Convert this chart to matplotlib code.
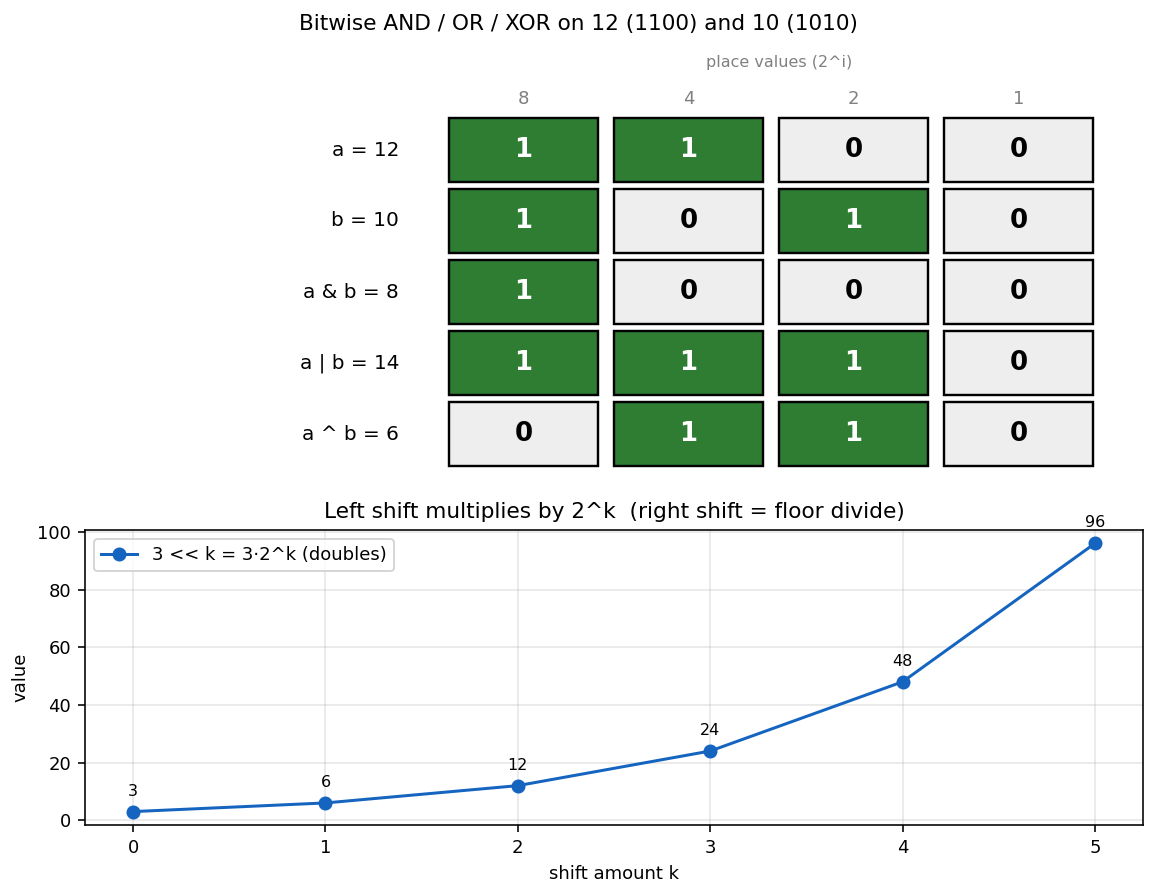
import numpy as np
import matplotlib.pyplot as plt
from matplotlib.patches import Rectangle

plt.rcParams['font.size'] = 9

# top panel data
row_labels = ['a = 12', 'b = 10', 'a & b = 8', 'a | b = 14', 'a ^ b = 6']
bits = [[1, 1, 0, 0],
        [1, 0, 1, 0],
        [1, 0, 0, 0],
        [1, 1, 1, 0],
        [0, 1, 1, 0]]
place_values = ['8', '4', '2', '1']

# bottom panel data
k = [0, 1, 2, 3, 4, 5]
shifted = [3, 6, 12, 24, 48, 96]

W, H, DPI = 1156, 894, 144
fig = plt.figure(figsize=(W / DPI, H / DPI), dpi=DPI)

# --- bit grid ---
ax1 = fig.add_axes([0, 1 - 480 / H, 1, (480 - 42) / H])
green, grey = '#2e7d32', '#eeeeee'
for i, row in enumerate(bits):
    for j, b in enumerate(row):
        ax1.add_patch(Rectangle((j - 0.45, -i - 0.45), 0.9, 0.9,
                                facecolor=green if b else grey,
                                edgecolor='black', lw=1.2))
        ax1.text(j, -i, str(b), ha='center', va='center', fontsize=13,
                 fontweight='bold', color='white' if b else 'black')
    ax1.text(-0.755, -i, row_labels[i], ha='right', va='center', fontsize=10)
for j, p in enumerate(place_values):
    ax1.text(j, 0.72, p, ha='center', va='center', fontsize=9, color='gray')
ax1.text(1.55, 1.23, 'place values (2^i)', ha='center', va='center',
         fontsize=8, color='gray')
ax1.set_xlim(-523.5 / 165, (W - 523.5) / 165)
ax1.set_ylim(-(480 - 150) / 71, (150 - 42) / 71)
ax1.axis('off')
ax1.set_title('Bitwise AND / OR / XOR on 12 (1100) and 10 (1010)')

# --- shift line chart ---
ax2 = fig.add_axes([85 / W, 1 - 825 / H, (1143 - 85) / W, (825 - 530) / H])
ax2.plot(k, shifted, '-o', color='#1565c0', lw=1.5, ms=6,
         label='3 << k = 3·2^k (doubles)')
for x, y in zip(k, shifted):
    ax2.annotate(str(y), (x, y), xytext=(0, 8), textcoords='offset points',
                 ha='center', fontsize=8)
ax2.set_xlabel('shift amount k')
ax2.set_ylabel('value')
ax2.set_title('Left shift multiplies by 2^k  (right shift = floor divide)')
ax2.grid(alpha=0.3)
ax2.legend(loc='upper left')

fig.savefig('out.png', dpi=DPI)
